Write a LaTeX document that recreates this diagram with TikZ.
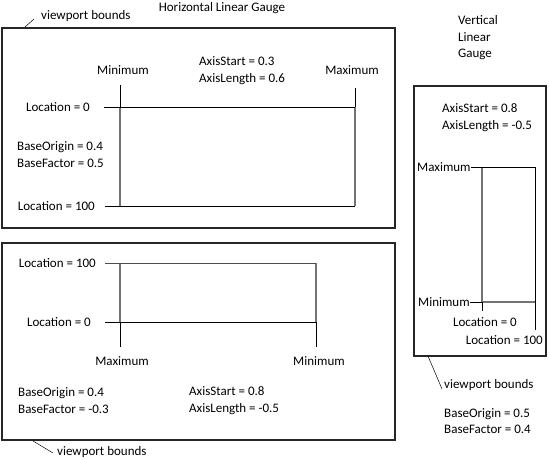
\documentclass[tikz,border=0pt]{standalone}
\usepackage{fontspec}
\setmainfont{Carlito}
\usepackage{tikz}
\usetikzlibrary{positioning}
\tikzset{
  vpbox/.style={draw=black!85,line width=1.8pt},
  gline/.style={line width=0.8pt},
  axline/.style={draw=black!55,line width=1.3pt},
  lead/.style={line width=0.5pt},
  lbl/.style={font=\fontsize{13}{16.5}\selectfont,inner sep=1pt,align=left}
}

\begin{document}
\begin{tikzpicture}[x=1pt,y=-1pt]
  \useasboundingbox (0,0) rectangle (550,459);
  % horizontal gauge, top
  \draw[vpbox] (2,28) rectangle (395,228);
  \node[lbl] (htitle) at (222,8) {Horizontal Linear Gauge};
  \node[lbl,anchor=west] (hvp) at (40,16) {viewport bounds};
  \coordinate (hvpend) at (25,27);
  \draw[lead] (hvpend) -- ([xshift=-6pt,yshift=-3pt]hvp.west);
  \node[lbl] (hmin) at (123,70) {Minimum};
  \node[lbl] (hmax) at (352,70) {Maximum};
  \node[lbl,anchor=west] (haxis) at (198,70.5) {AxisStart = 0.3\\AxisLength = 0.6};
  \node[lbl,anchor=east] (hloc0) at (91,107) {Location = 0};
  \node[lbl,anchor=east] (hloc100) at (96,206) {Location = 100};
  \node[lbl,anchor=west] (hbase) at (16,154.5) {BaseOrigin = 0.4\\BaseFactor = 0.5};
  \coordinate (hA) at (120,85); \coordinate (hA0) at (120,107); \coordinate (hB) at (120,206);
  \coordinate (hC) at (104,107); \coordinate (hD) at (355,107);
  \coordinate (hE) at (355,88); \coordinate (hF) at (355,206);
  \coordinate (hG) at (105,206);
  \draw[axline] (hA0) -- (hB) (hD) -- (hF);
  \draw[gline] (hA) -- (hA0) (hC) -- (hD) (hE) -- (hD) (hF) -- (hG);
  % vertical gauge, right
  \draw[vpbox] (414,86) rectangle (546,356);
  \node[lbl,anchor=west] (vtitle) at (457,38) {Vertical\\Linear\\Gauge};
  \node[lbl,anchor=west] (vaxis) at (441,117.5) {AxisStart = 0.8\\AxisLength = -0.5};
  \node[lbl,anchor=west,inner sep=0pt] (vmax) at (417,167) {Maximum};
  \node[lbl,anchor=west,inner sep=0pt] (vmin) at (418,302) {Minimum};
  \node[lbl] (vloc0) at (485,322) {Location = 0};
  \node[lbl,anchor=east] (vloc100) at (544,340) {Location = 100};
  \coordinate (vA) at (535,167); \coordinate (vB) at (535,330);
  \coordinate (vC) at (482,167); \coordinate (vD) at (482,311);
  \coordinate (vC0) at (482,302); \coordinate (vE) at (535,302);
  \draw[axline] (vC) -- (vC0) -- (vE);
  \draw[gline] (vmax.east) -- (vA) -- (vB) (vC0) -- (vD) (vmin.east) -- (vC0);
  \node[lbl,anchor=west] (vvp) at (443,385) {viewport bounds};
  \coordinate (vvpend) at (428,356);
  \draw[lead] (vvpend) -- ([xshift=-1pt,yshift=-4pt]vvp.west);
  \node[lbl,anchor=west] (vbase) at (443,421) {BaseOrigin = 0.5\\BaseFactor = 0.4};
  % horizontal gauge, bottom
  \draw[vpbox] (2,243) rectangle (395,440);
  \node[lbl,anchor=east] (bloc100) at (97,263) {Location = 100};
  \node[lbl,anchor=east] (bloc0) at (92,322) {Location = 0};
  \node[lbl] (bmax) at (122,361) {Maximum};
  \node[lbl] (bmin) at (319,361) {Minimum};
  \node[lbl,anchor=west] (bbase) at (17,400.5) {BaseOrigin = 0.4\\BaseFactor = -0.3};
  \node[lbl,anchor=west] (baxis) at (188,400.5) {AxisStart = 0.8\\AxisLength = -0.5};
  \coordinate (bA) at (105,263); \coordinate (bB) at (316,263);
  \coordinate (bC) at (105,322); \coordinate (bD) at (316,322);
  \coordinate (bE) at (120,347); \coordinate (bF) at (316,347);
  \coordinate (bG) at (120,263); \coordinate (bG0) at (120,322);
  \draw[axline] (bG) -- (bG0) (bB) -- (bD);
  \draw[gline,draw=black!70] (bA) -- (bB);
  \draw[gline] (bC) -- (bD) -- (bF) (bG0) -- (bE);
  \node[lbl,anchor=west] (bvp) at (56,452) {viewport bounds};
  \coordinate (bvpend) at (33,441);
  \draw[lead] (bvpend) -- ([xshift=-3pt,yshift=-1pt]bvp.west);
\end{tikzpicture}
\end{document}
